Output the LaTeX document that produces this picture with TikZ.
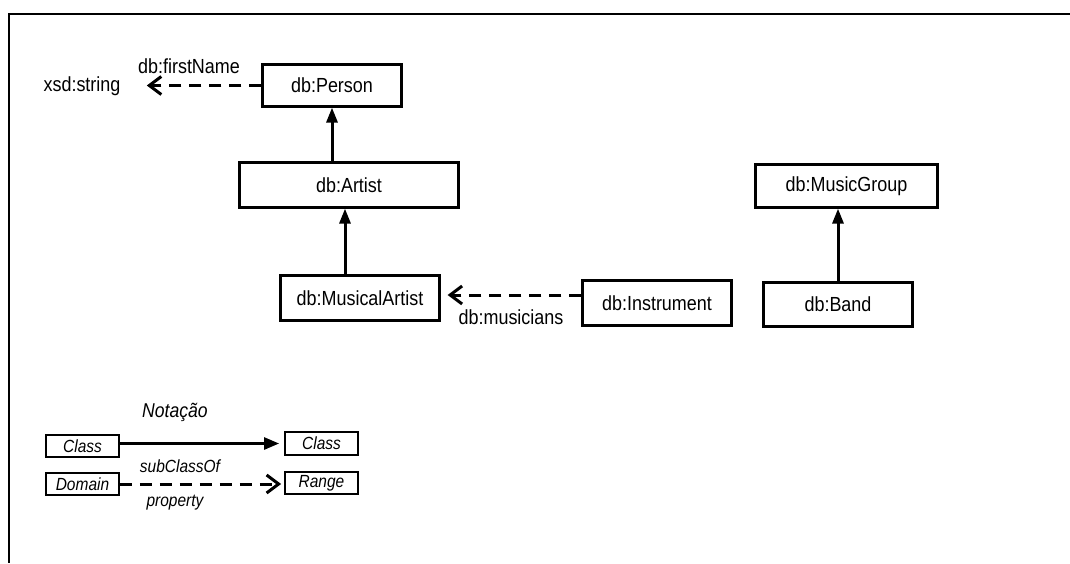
\documentclass[tikz,border=0pt]{standalone}
\usepackage{fontspec}
\setmainfont{Liberation Sans}
\newfontfamily\narrowsans{Liberation Sans}[FakeStretch=0.88]
\usetikzlibrary{arrows.meta}
\begin{document}
\begin{tikzpicture}[x=0.5pt,y=-0.5pt,
  cls/.style={draw,line width=1.1pt,rectangle,inner sep=0pt,font=\narrowsans\fontsize{10.2}{12}\selectfont},
  lcls/.style={draw,line width=0.9pt,rectangle,inner sep=0pt,font=\narrowsans\fontsize{8.8}{10}\selectfont\itshape},
  txt/.style={inner sep=0pt,font=\narrowsans\fontsize{10.2}{12}\selectfont},
  ltxt/.style={inner sep=0pt,font=\narrowsans\fontsize{8.8}{10}\selectfont\itshape},
  sub/.style={line width=1.5pt,-{Triangle[length=7.5pt,width=5.5pt]}},
  prop/.style={line width=1.5pt,dash pattern=on 6pt off 4pt,-{Straight Barb[length=6pt,width=9pt]}}]
\useasboundingbox (0,0) rectangle (1070,563);
% frame
\draw[line width=1pt] (1070,13.5) -- (8.5,13.5) -- (8.5,563);

% classes
\node[cls,minimum width=69.5pt,minimum height=21pt] (person) at (332,85.5) {db:Person};
\node[cls,minimum width=109.5pt,minimum height=22.5pt] (artist) at (349,185) {db:Artist};
\node[cls,minimum width=79.5pt,minimum height=22.5pt] (musart) at (360,298) {db:MusicalArtist};
\node[cls,minimum width=74.5pt,minimum height=22.5pt] (instr) at (657,303) {db:Instrument};
\node[cls,minimum width=91pt,minimum height=21.5pt] (group) at (846.5,186) {db:MusicGroup};
\node[cls,minimum width=74.5pt,minimum height=22pt] (band) at (838,304.5) {db:Band};
\node[txt] (xsd) at (82,86) {xsd:string};

% subclass links
\draw[sub] (artist.north -| person.south) -- (person.south);
\coordinate (maup) at ([xshift=-7.5pt]musart.north);
\draw[sub] (maup) -- (maup |- artist.south);
\draw[sub] (band.north) -- (band.north |- group.south);

% properties
\draw[prop,shorten >=13pt] (person.west) -- (person.west -| xsd.east);
\node[txt] (fn) at (189,66) {db:firstName};
\coordinate (inw) at ([yshift=4pt]instr.west);
\draw[prop,shorten >=3.5pt] (inw) -- (inw -| musart.east);
\node[txt] (mus) at (511,317) {db:musicians};

% legend
\node[ltxt,font=\narrowsans\fontsize{10}{12}\selectfont\itshape] (nota) at (175,412) {Notação};
\node[lcls,minimum width=36.5pt,minimum height=11pt] (c1) at (82.5,446) {Class};
\node[lcls,minimum width=36.5pt,minimum height=11.5pt] (c2) at (321.5,443.5) {Class};
\node[lcls,minimum width=36.5pt,minimum height=11pt] (dom) at (82.5,484) {Domain};
\node[lcls,minimum width=36.5pt,minimum height=11pt] (rng) at (321.5,483) {Range};
\draw[line width=1.3pt,-{Triangle[length=7.5pt,width=6pt]},shorten >=2.5pt]
  (c1.east |- c2.west) -- (c2.west);
\draw[prop,shorten >=1.5pt] (dom.east) -- (dom.east -| rng.west);
\node[ltxt] (sc) at (180,466) {subClassOf};
\node[ltxt] (pr) at (175,503) {property};
\end{tikzpicture}
\end{document}
